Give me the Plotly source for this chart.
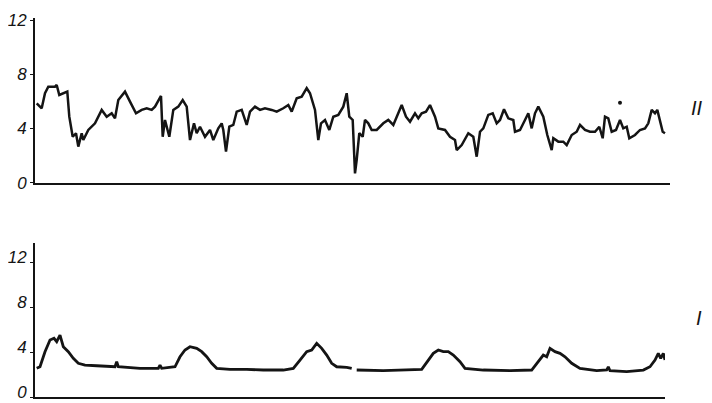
import plotly.graph_objects as go

# Panel II (top) : time (arbitrary units) and values
t_II = [1.7, 6.7, 10, 13.3, 20, 21.7, 24.3, 28.3, 32.3, 34.3, 37.7, 41, 43.3, 46.7, 48.3, 53.3, 60, 66.7, 71.7, 76.7,
        80, 83.3, 90, 95, 101, 106.7, 111.7, 116.7, 120, 126, 127.7, 130, 134.3, 138.3, 143.3, 147.7, 151.7, 155, 159,
        161.7, 165, 170, 175, 178.3, 183.3, 186.7, 188.3, 191, 194.3, 198.3, 201.7, 206.7, 211.7, 215, 220, 225, 230,
        236.7, 241.7, 248.3, 253.3, 256.7, 261.7, 266.7, 271.7, 275, 280, 283.3, 286, 290, 294.3, 298.3, 303.3, 308.3,
        311.7, 314.3, 317.7, 320, 321.7, 324.3, 327.7, 330, 333.3, 336.7, 341.7, 348.3, 353.3, 358.3, 361.7, 366.7,
        371, 375, 380, 383.3, 386.7, 391, 395, 400, 403.3, 410, 415, 420, 421.7, 426.7, 433.3, 438.3, 441.7, 445,
        448.3, 453.3, 457.7, 461.7, 465, 469, 473.3, 478.3, 480, 485, 490, 493.3, 496.7, 500, 503.3, 508.3, 512.3,
        516.7, 518.3, 523.3, 528.3, 531.7, 536.7, 541.7, 545, 550, 555, 560, 564.3, 567.7, 570, 573.3, 576.7, 581,
        585, 588.3, 591.7, 594.3, 600, 605, 610, 613.3, 616.7, 620, 622.3, 625, 627.7, 630]
v_II = [5.86, 5.49, 6.60, 7.08, 7.08, 7.21, 6.47, 6.60, 6.72, 4.87, 3.39, 3.65, 2.66, 3.65, 3.15, 3.89, 4.38, 5.37, 4.87, 5.12,
        4.75, 6.10, 6.72, 5.98, 5.12, 5.37, 5.49, 5.37, 5.61, 6.40, 3.39, 4.63, 3.39, 5.37, 5.61, 6.10, 5.61, 3.15, 4.38,
        3.65, 4.13, 3.39, 3.89, 3.15, 4.01, 4.38, 3.89, 2.29, 4.13, 4.26, 5.24, 5.37, 4.26, 5.24, 5.61, 5.37, 5.49,
        5.37, 5.24, 5.49, 5.73, 5.24, 6.23, 6.35, 6.97, 6.60, 5.37, 3.15, 4.38, 4.63, 3.89, 4.87, 5.00, 5.61,
        6.60, 4.87, 4.63, 0.69, 1.68, 3.65, 3.39, 4.63, 4.38, 3.89, 3.89, 4.38, 4.63, 4.26, 4.87, 5.73,
        4.87, 4.50, 5.12, 4.75, 5.12, 5.24, 5.73, 4.87, 4.01, 3.89, 3.39, 3.15, 2.41, 2.78, 3.65, 3.39, 1.92, 3.76,
        4.01, 5.00, 5.12, 4.38, 4.63, 5.42, 4.75, 4.63, 3.76, 3.89, 4.63, 5.12, 4.01, 5.12, 5.61, 4.87, 3.52,
        2.41, 3.28, 3.03, 3.03, 2.78, 3.52, 3.76, 4.26, 3.89, 3.76, 3.76, 4.13, 3.28, 4.87, 4.75, 3.76, 3.89,
        4.63, 4.01, 4.13, 3.28, 3.52, 3.89, 4.01, 4.38, 5.37, 5.12, 5.37, 4.50, 3.76, 3.65]
dot_t = [585]
dot_v = [5.90]

# Panel I (bottom)
t_I = [1.7, 5, 10, 15, 19, 21.7, 25, 28.3, 33.3, 38.3, 43.3, 50, 61.7, 80, 81.7, 83.3, 105, 123.3, 125, 126.7, 140,
       145, 150, 155, 161.7, 166.7, 171.7, 176.7, 181.7, 195, 211.7, 228.3, 248.3, 258.3, 265, 271.7, 276.7, 281.7,
       286.7, 291.7, 296.7, 301.7, 311.7, 316.7, None,
       321.7, 348.3, 386.7, 393.3, 398.3, 403.3, 408.3, 413.3, 418.3, 425, 430, 448.3, 475, 496.7, 501.7, 508.3,
       511.7, 515, 520, 525, 530, 536.7, 545, 561.7, 571.7, 573.3, 575, 591.7, 608.3, 615, 620, 623.3, 625.7, 628.3, 630]
v_I = [2.55, 2.69, 4.03, 5.07, 5.22, 4.92, 5.51, 4.47, 4.03, 3.44, 3.00, 2.84, 2.78, 2.69, 3.14, 2.69, 2.55, 2.55, 2.84, 2.55, 2.69,
       3.58, 4.18, 4.47, 4.33, 4.03, 3.58, 3.00, 2.55, 2.46, 2.46, 2.40, 2.40, 2.55, 3.29, 4.03, 4.18, 4.77,
       4.33, 3.73, 3.00, 2.69, 2.64, 2.55, None,
       2.40, 2.34, 2.46, 3.29, 3.88, 4.18, 4.03, 4.03, 3.73, 3.14, 2.55, 2.40, 2.34, 2.40, 3.00, 3.73,
       3.58, 4.33, 4.03, 3.88, 3.58, 3.00, 2.55, 2.34, 2.40, 2.69, 2.34, 2.25, 2.40, 2.69, 3.29, 3.88, 3.44, 3.88, 3.29]

y_ticks = [0, 4, 8, 12]
y_ticktext = ["0", "4", "8", "12"]
panel_labels = ["II", "I"]

ink = "#141414"
W, H = 712, 403
OFF = 8  # the page body margin shifts the figure by this many pixels


def px_x(p):
    return (p - OFF) / W


def px_y(p):
    return 1 - (p - OFF) / H


fig = go.Figure()
fig.add_trace(go.Scatter(x=t_II, y=v_II, mode="lines", line=dict(color=ink, width=2.5),
                         xaxis="x", yaxis="y", showlegend=False))
fig.add_trace(go.Scatter(x=dot_t, y=dot_v, mode="markers", marker=dict(color=ink, size=4),
                         xaxis="x", yaxis="y", showlegend=False))
fig.add_trace(go.Scatter(x=t_I, y=v_I, mode="lines", line=dict(color=ink, width=2.8), connectgaps=False,
                         xaxis="x2", yaxis="y2", showlegend=False))

tickfont = dict(family="Liberation Sans, Arial", size=17, color=ink, style="italic")
common_y = dict(showline=True, linecolor=ink, linewidth=2, ticks="outside", ticklen=3, tickwidth=1.2,
                tickcolor=ink, tickvals=y_ticks, ticktext=y_ticktext, showgrid=False, zeroline=False,
                tickfont=tickfont, automargin=False, ticklabelstandoff=0)
common_x = dict(showline=True, linecolor=ink, linewidth=2, showticklabels=False, ticks="", showgrid=False,
                zeroline=False, automargin=False)

fig.update_layout(
    width=W, height=H, margin=dict(l=0, r=0, t=0, b=0, autoexpand=False),
    paper_bgcolor="white", plot_bgcolor="white",
    xaxis=dict(domain=[px_x(35), px_x(670)], range=[0, 635], anchor="y", **common_x),
    yaxis=dict(domain=[px_y(182.7), px_y(18.3)], range=[0, 12.13], anchor="x", **common_y),
    xaxis2=dict(domain=[px_x(35), px_x(665)], range=[0, 630], anchor="y2", **common_x),
    yaxis2=dict(domain=[px_y(397), px_y(243)], range=[0, 13.7], anchor="x2", ticklabelshift=-5, **common_y),
    annotations=[
        dict(text=panel_labels[0], x=px_x(705), y=px_y(95), xref="paper", yref="paper", showarrow=False,
             font=dict(family="Liberation Sans", size=20, color=ink, style="italic")),
        dict(text=panel_labels[1], x=px_x(704), y=px_y(331), xref="paper", yref="paper", showarrow=False,
             font=dict(family="Liberation Sans", size=20, color=ink, style="italic")),
    ],
)

fig.write_html("out.html")
